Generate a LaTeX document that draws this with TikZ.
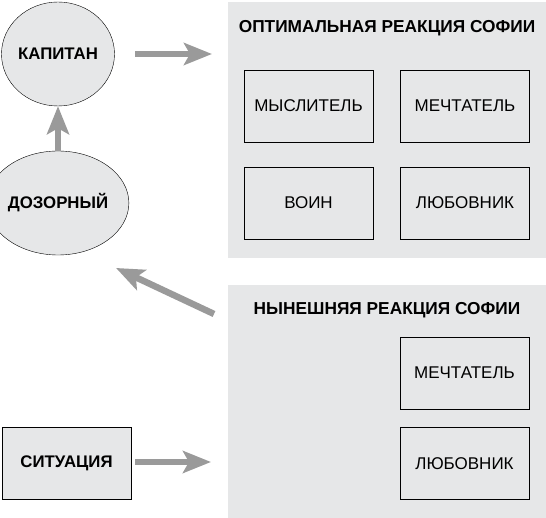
\documentclass[tikz,border=0pt]{standalone}
\usepackage{fontspec}
\setmainfont{Liberation Sans}
\usetikzlibrary{arrows.meta,shapes.geometric}

\definecolor{fond}{HTML}{E6E7E8}
\definecolor{trait}{HTML}{9A9A9A}

\tikzset{perso/.style = {ellipse, draw, fill = fond, minimum width = 113pt,
                         minimum height = 104pt, inner sep = 0pt,
                         font = \fontsize{16.8}{19}\selectfont\bfseries},
         type/.style  = {draw, minimum width = 129pt, minimum height = 72pt,
                         font = \fontsize{17}{19}\selectfont},
         zone/.style  = {fill = fond, inner sep = 0pt},
         titre/.style = {font = \fontsize{17.3}{19}\selectfont\bfseries},
         fleche/.style = {draw = trait, line width = 6.5pt,
                          -{Stealth[length = 28pt, width = 22pt, inset = 6pt]}}
        }

\begin{document}
\begin{tikzpicture}[x = 1pt, y = -1pt]
  \useasboundingbox (0,0) rectangle (546,518);
  % les deux cadres gris
  \node[zone, minimum width = 318pt, minimum height = 256pt] (optimale) at (387,130) {};
  \node[zone, minimum width = 318pt, minimum height = 233pt] (actuelle) at (387,401.5) {};
  \node[titre] (titre1) at (387,28.5) {ОПТИМАЛЬНАЯ РЕАКЦИЯ СОФИИ};
  \node[titre] (titre2) at (387,310.5) {НЫНЕШНЯЯ РЕАКЦИЯ СОФИИ};
  % reaction optimale
  \node[type] (penseur)  at (308.5,106) {МЫСЛИТЕЛЬ};
  \node[type] (reveur)   at (465,106)   {МЕЧТАТЕЛЬ};
  \node[type] (guerrier) at (308.5,203) {ВОИН};
  \node[type] (amant)    at (465,203)   {ЛЮБОВНИК};
  % reaction actuelle
  \node[type] (reveur2) at (464.5,373)   {МЕЧТАТЕЛЬ};
  \node[type] (amant2)  at (464.5,463.5) {ЛЮБОВНИК};
  % personnages
  \node[perso] (capitaine) at (58,54)  {КАПИТАН};
  \node[perso] (vigie)     at (58,203) {ДОЗОРНЫЙ};
  \node[type, fill = fond, font = \fontsize{16.8}{19}\selectfont\bfseries] (situation)
    at (66.5,463) {СИТУАЦИЯ};
  % fleches
  \coordinate (a1) at (135,54);
  \coordinate (b1) at (212,54);
  \coordinate (a2) at (214,314);
  \coordinate (b2) at (116,268);
  \coordinate (a3) at (135,462);
  \coordinate (b3) at (211,462);
  \draw[fleche] (vigie) -- (capitaine);
  \draw[fleche] (a1) -- (b1);
  \draw[fleche] (a2) -- (b2);
  \draw[fleche] (a3) -- (b3);
\end{tikzpicture}
\end{document}
